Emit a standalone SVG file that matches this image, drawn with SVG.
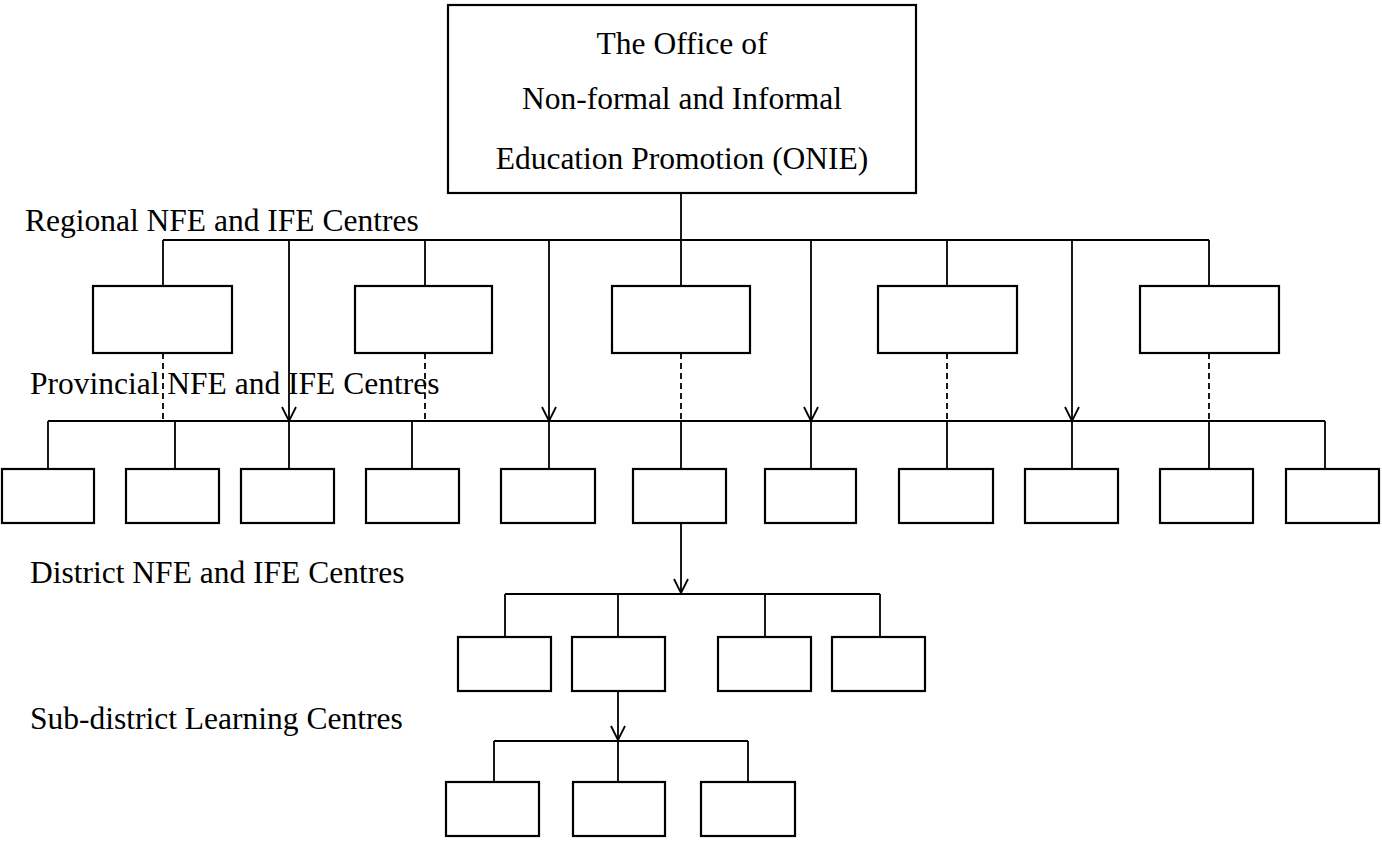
<svg xmlns="http://www.w3.org/2000/svg" width="1382" height="841" viewBox="0 0 1382 841">
<defs><marker id="a" markerWidth="16" markerHeight="16" refX="15" refY="8" orient="auto" markerUnits="userSpaceOnUse" viewBox="0 0 16 16"><path d="M1 1 L15 8 L1 15" fill="none" stroke="#000" stroke-width="1.8"/></marker></defs>
<style>rect{fill:#fff;stroke:#000;stroke-width:2.2}line{stroke:#000;stroke-width:1.8}.d{stroke-dasharray:6 4}text{font-family:"Liberation Serif",serif;font-size:31.5px;fill:#000}.c{text-anchor:middle}</style>
<rect width="1382" height="841" style="fill:#fff;stroke:none"/>
<g id="top"><rect x="448" y="5" width="468" height="188"/><text class="c" x="682" y="54">The Office of</text><text class="c" x="682" y="109">Non-formal and Informal</text><text class="c" x="682" y="169">Education Promotion (ONIE)</text></g>
<g id="labels"><text x="25" y="231">Regional NFE and IFE Centres</text><text x="30" y="394">Provincial NFE and IFE Centres</text><text x="30" y="583">District NFE and IFE Centres</text><text x="30" y="729">Sub-district Learning Centres</text></g>
<g id="connectors">
<line x1="681" y1="193" x2="681" y2="240"/><line x1="163" y1="240" x2="1209" y2="240"/>
<line x1="163" y1="240" x2="163" y2="286"/><line x1="425" y1="240" x2="425" y2="286"/><line x1="681" y1="240" x2="681" y2="286"/><line x1="947" y1="240" x2="947" y2="286"/><line x1="1209" y1="240" x2="1209" y2="286"/>
<line x1="289" y1="240" x2="289" y2="421" marker-end="url(#a)"/><line x1="549" y1="240" x2="549" y2="421" marker-end="url(#a)"/><line x1="811" y1="240" x2="811" y2="421" marker-end="url(#a)"/><line x1="1072" y1="240" x2="1072" y2="421" marker-end="url(#a)"/>
<line class="d" x1="163" y1="353" x2="163" y2="421"/><line class="d" x1="425" y1="353" x2="425" y2="421"/><line class="d" x1="681" y1="353" x2="681" y2="421"/><line class="d" x1="947" y1="353" x2="947" y2="421"/><line class="d" x1="1209" y1="353" x2="1209" y2="421"/>
<line x1="48" y1="421" x2="1325" y2="421"/>
<line x1="48" y1="421" x2="48" y2="469"/><line x1="175" y1="421" x2="175" y2="469"/><line x1="289" y1="421" x2="289" y2="469"/><line x1="412" y1="421" x2="412" y2="469"/><line x1="549" y1="421" x2="549" y2="469"/><line x1="681" y1="421" x2="681" y2="469"/><line x1="811" y1="421" x2="811" y2="469"/><line x1="947" y1="421" x2="947" y2="469"/><line x1="1072" y1="421" x2="1072" y2="469"/><line x1="1209" y1="421" x2="1209" y2="469"/><line x1="1325" y1="421" x2="1325" y2="469"/>
<line x1="681" y1="523" x2="681" y2="593" marker-end="url(#a)"/><line x1="505" y1="594" x2="880" y2="594"/>
<line x1="505" y1="594" x2="505" y2="637"/><line x1="618" y1="594" x2="618" y2="637"/><line x1="765" y1="594" x2="765" y2="637"/><line x1="880" y1="594" x2="880" y2="637"/>
<line x1="618" y1="691" x2="618" y2="740" marker-end="url(#a)"/><line x1="494" y1="741" x2="748" y2="741"/>
<line x1="494" y1="741" x2="494" y2="782"/><line x1="618" y1="741" x2="618" y2="782"/><line x1="748" y1="741" x2="748" y2="782"/>
</g>
<g id="regional"><rect x="93" y="286" width="139" height="67"/><rect x="355" y="286" width="137" height="67"/><rect x="612" y="286" width="138" height="67"/><rect x="878" y="286" width="139" height="67"/><rect x="1140" y="286" width="139" height="67"/></g>
<g id="provincial"><rect x="2" y="469" width="92" height="54"/><rect x="126" y="469" width="93" height="54"/><rect x="241" y="469" width="93" height="54"/><rect x="366" y="469" width="93" height="54"/><rect x="501" y="469" width="94" height="54"/><rect x="633" y="469" width="93" height="54"/><rect x="765" y="469" width="91" height="54"/><rect x="899" y="469" width="94" height="54"/><rect x="1025" y="469" width="93" height="54"/><rect x="1160" y="469" width="93" height="54"/><rect x="1286" y="469" width="93" height="54"/></g>
<g id="district"><rect x="458" y="637" width="93" height="54"/><rect x="572" y="637" width="93" height="54"/><rect x="718" y="637" width="93" height="54"/><rect x="832" y="637" width="93" height="54"/></g>
<g id="subdistrict"><rect x="446" y="782" width="93" height="54"/><rect x="573" y="782" width="92" height="54"/><rect x="701" y="782" width="94" height="54"/></g>
</svg>
